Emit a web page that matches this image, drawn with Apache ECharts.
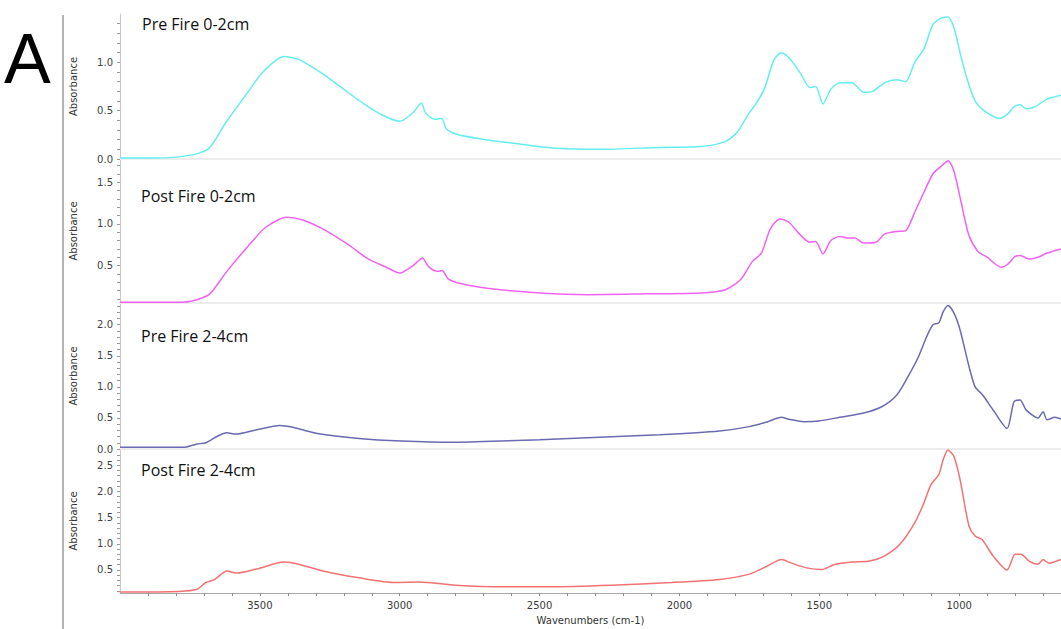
<!DOCTYPE html>
<html>
<head>
<meta charset="utf-8">
<script src="https://cdn.jsdelivr.net/npm/echarts@6/dist/echarts.min.js"></script>
<style>
html,body{margin:0;padding:0;background:#fff;}
#chart{width:1061px;height:629px;}
</style>
</head>
<body>
<div id="chart"></div>
<script>
// ---------- data ----------
var panelTitles = ['Pre Fire 0-2cm', 'Post Fire 0-2cm', 'Pre Fire 2-4cm', 'Post Fire 2-4cm'];
var panelLetter = 'A';
var xAxisName = 'Wavenumbers (cm-1)';
var yAxisName = 'Absorbance';
var xTickLabels = [3500, 3000, 2500, 2000, 1500, 1000];

var preFire02Wn = [4000,3875,3746,3682,3621,3543,3489,3414,3361,3275,3209,3123,3059,3000,2952,2923,2908,2876,2850,2833,2790,2715,2586,2436,2286,2071,1922,1836,1793,1750,1729,1697,1663,1636,1609,1566,1534,1513,1487,1459,1427,1384,1341,1309,1266,1223,1191,1159,1126,1094,1062,1040,1019,997,972,943,911,857,825,804,782,761,729,686,636];
var preFire02Abs = [0.01,0.01,0.04,0.11,0.38,0.69,0.90,1.06,1.03,0.88,0.74,0.56,0.45,0.39,0.48,0.58,0.48,0.41,0.42,0.31,0.25,0.21,0.16,0.11,0.10,0.12,0.13,0.18,0.28,0.48,0.56,0.72,1.02,1.10,1.05,0.88,0.74,0.75,0.57,0.72,0.79,0.79,0.69,0.70,0.79,0.82,0.80,1.00,1.14,1.39,1.46,1.47,1.36,1.10,0.83,0.60,0.50,0.42,0.47,0.54,0.56,0.52,0.54,0.62,0.66];

var postFire02Wn = [4000,3780,3746,3682,3618,3543,3479,3404,3350,3275,3188,3113,3048,3000,2952,2919,2898,2865,2848,2827,2779,2672,2500,2329,2114,1922,1836,1782,1739,1707,1675,1641,1609,1566,1534,1513,1487,1459,1427,1395,1373,1341,1298,1266,1223,1191,1159,1126,1094,1062,1040,1019,993,965,933,900,850,825,800,782,750,718,686,636];
var postFire02Abs = [0.06,0.06,0.07,0.15,0.43,0.73,0.96,1.08,1.05,0.94,0.76,0.58,0.48,0.41,0.50,0.59,0.49,0.43,0.44,0.34,0.28,0.22,0.17,0.15,0.16,0.17,0.21,0.33,0.55,0.65,0.94,1.06,1.02,0.86,0.78,0.79,0.64,0.80,0.85,0.83,0.83,0.77,0.78,0.88,0.91,0.92,1.14,1.38,1.60,1.70,1.76,1.64,1.26,0.86,0.67,0.60,0.48,0.52,0.61,0.62,0.58,0.60,0.65,0.70];

var preFire24Wn = [4000,3768,3725,3693,3650,3618,3586,3511,3429,3382,3295,3145,2995,2801,2500,2286,2071,1857,1750,1684,1636,1609,1555,1502,1427,1341,1277,1223,1180,1148,1116,1094,1073,1057,1040,1019,997,965,943,916,879,829,804,782,761,718,700,686,658,636];
var preFire24Abs = [0.03,0.03,0.08,0.10,0.21,0.26,0.24,0.31,0.38,0.35,0.25,0.17,0.13,0.11,0.15,0.19,0.23,0.29,0.36,0.44,0.51,0.48,0.44,0.45,0.51,0.58,0.68,0.87,1.19,1.46,1.81,2.00,2.03,2.21,2.31,2.19,1.92,1.33,1.00,0.87,0.63,0.33,0.76,0.79,0.63,0.50,0.60,0.47,0.51,0.48];

var postFire24Wn = [4000,3789,3725,3693,3661,3618,3586,3511,3414,3361,3275,3145,3016,2930,2801,2629,2457,2243,2029,1857,1750,1684,1636,1599,1545,1491,1448,1384,1320,1266,1212,1159,1126,1101,1073,1057,1040,1019,997,965,943,918,879,829,800,779,750,718,700,679,636];
var postFire24Abs = [0.08,0.09,0.13,0.26,0.32,0.48,0.44,0.52,0.65,0.61,0.48,0.35,0.26,0.27,0.21,0.18,0.18,0.21,0.26,0.32,0.42,0.58,0.70,0.63,0.54,0.51,0.60,0.65,0.67,0.77,0.99,1.40,1.78,2.13,2.32,2.61,2.79,2.67,2.23,1.34,1.15,1.08,0.77,0.50,0.80,0.80,0.67,0.61,0.70,0.63,0.70];

var yTickLabels1 = [0.0, 0.5, 1.0];
var yTickLabels2 = [0.5, 1.0, 1.5];
var yTickLabels3 = [0.0, 0.5, 1.0, 1.5, 2.0];
var yTickLabels4 = [0.5, 1.0, 1.5, 2.0, 2.5];

// ---------- build ----------
var wnList = [preFire02Wn, postFire02Wn, preFire24Wn, postFire24Wn];
var absList = [preFire02Abs, postFire02Abs, preFire24Abs, postFire24Abs];
var yLabelList = [yTickLabels1, yTickLabels2, yTickLabels3, yTickLabels4];
var yRanges = [[0, 1.5], [0.05, 1.78], [0, 2.35], [0.06, 2.81]];
var colors = ['#62eeee', '#f063f0', '#6a6ab2', '#f27272'];
var grids = [[14, 145], [159, 144], [303, 146], [449, 144]];

function stepTicks(lo, hi, step) {
  var out = [];
  var start = Math.ceil(lo / step - 1e-9);
  for (var k = start; k * step <= hi + 1e-9; k++) out.push(+(k * step).toFixed(3));
  return out;
}

var xMin = 636, xMax = 4000;
var fontFam = 'DejaVu Sans';

var option = {
  animation: false,
  backgroundColor: '#ffffff',
  grid: [], xAxis: [], yAxis: [], series: [],
  graphic: []
};

for (var i = 0; i < 4; i++) {
  option.grid.push({ left: 120, right: 0, top: grids[i][0], height: grids[i][1] });
  var last = (i === 3);
  option.xAxis.push({
    type: 'value', gridIndex: i, inverse: true, min: xMin, max: xMax,
    axisLine: { show: true, onZero: false, lineStyle: { color: last ? '#a8a8a8' : '#ececec', width: last ? 1 : 2 } },
    axisTick: { show: last, length: 3, lineStyle: { color: '#8a8a8a' }, customValues: stepTicks(700, 3900, 100) },
    axisLabel: { show: last, customValues: xTickLabels, margin: 7, color: '#3a3a3a', fontSize: 10, fontFamily: fontFam,
      formatter: function (v) { return String(Math.round(v)); } },
    splitLine: { show: false },
    name: last ? xAxisName : '', nameLocation: 'middle', nameGap: 22,
    nameTextStyle: { color: '#333', fontSize: 10, fontFamily: fontFam }
  });
  option.yAxis.push({
    type: 'value', gridIndex: i, min: yRanges[i][0], max: yRanges[i][1],
    axisLine: { show: true, onZero: false, lineStyle: { color: '#c9c9c9' } },
    axisTick: { show: true, length: 3, lineStyle: { color: '#9a9a9a' }, customValues: stepTicks(yRanges[i][0], yRanges[i][1] - 0.05, 0.1) },
    axisLabel: { customValues: yLabelList[i], margin: 7, color: '#3f3f3f', fontSize: 10, fontFamily: fontFam,
      formatter: function (v) { return (+v).toFixed(1); } },
    splitLine: { show: false },
    name: yAxisName, nameLocation: 'middle', nameGap: 42, nameRotate: 90,
    nameTextStyle: { color: '#333', fontSize: 10, fontFamily: fontFam }
  });
  var pts = wnList[i].map(function (w, k) { return [w, absList[i][k]]; });
  option.series.push({
    type: 'line', xAxisIndex: i, yAxisIndex: i, data: pts,
    showSymbol: false, smooth: 0.25, clip: true,
    lineStyle: { color: colors[i], width: 1.5 }
  });
}

var titlePos = [[142, 24], [141, 196], [141, 336], [141, 470]];
for (var j = 0; j < 4; j++) {
  option.graphic.push({
    type: 'text', x: titlePos[j][0], y: titlePos[j][1], silent: true,
    style: { text: panelTitles[j], fill: '#111', fontSize: 16, fontFamily: 'Open Sans', verticalAlign: 'middle', align: 'left' }
  });
}
option.graphic.push({
  type: 'text', x: 4, y: 59, silent: true,
  style: { text: panelLetter, fill: '#000', fontSize: 70, fontFamily: 'Liberation Sans', verticalAlign: 'middle', align: 'left' }
});
option.graphic.push({
  type: 'line', silent: true,
  shape: { x1: 63, y1: 15, x2: 63, y2: 629 },
  style: { stroke: '#b4b4b4', lineWidth: 2 }
});

var chart = echarts.init(document.getElementById('chart'), null, { renderer: 'svg' });
chart.setOption(option);
</script>
</body>
</html>
